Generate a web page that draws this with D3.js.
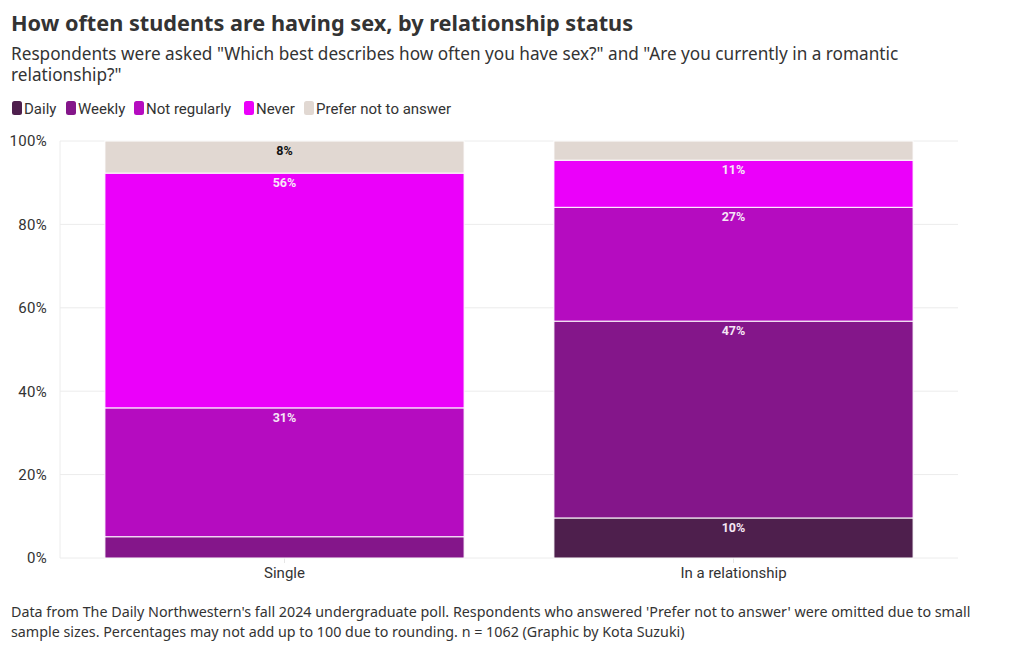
<!DOCTYPE html>
<html>
<head>
<meta charset="utf-8">
<script src="https://cdn.jsdelivr.net/npm/d3@7"></script>
<style>
  body { margin: 0; background: #fff; }
  svg { display: block; font-family: "Roboto", "Noto Sans", sans-serif; }
</style>
</head>
<body>
<svg id="chart" width="1020" height="650"></svg>
<script>
const categories = ["Single", "In a relationship"];
const seriesNames = ["Daily", "Weekly", "Not regularly", "Never", "Prefer not to answer"];
const daily = [0, 9.6];
const weekly = [5.1, 47.2];
const notRegularly = [30.9, 27.3];
const never = [56.3, 11.3];
const preferNot = [7.7, 4.6];
const colors = ["#4e1f4d", "#84168a", "#b50cc0", "#eb00fa", "#e1d8d2"];
const yTicks = [0, 20, 40, 60, 80, 100];

const svg = d3.select("#chart");
const margin = {left: 60, right: 62, top: 141, bottom: 92};
const W = 1020, H = 650;
const wideFont = "'Noto Sans', Roboto, sans-serif";

const x = d3.scaleBand().domain(categories).range([margin.left, W - margin.right]).paddingInner(0.2).paddingOuter(0.1);
const y = d3.scaleLinear().domain([0, 100]).range([H - margin.bottom, margin.top]);

const rows = categories.map((c, i) => ({
  cat: c,
  "Daily": daily[i], "Weekly": weekly[i], "Not regularly": notRegularly[i],
  "Never": never[i], "Prefer not to answer": preferNot[i]
}));
const stack = d3.stack().keys(seriesNames)(rows);

// Title etc.
svg.append("text").attr("x", 11).attr("y", 31).attr("font-size", 21.7).attr("font-weight", 700).attr("fill", "#333")
  .attr("font-family", wideFont)
  .text("How often students are having sex, by relationship status");
svg.append("text").attr("x", 11).attr("y", 60).attr("font-size", 17.2).attr("fill", "#333")
  .attr("font-family", wideFont)
  .text("Respondents were asked \"Which best describes how often you have sex?\" and \"Are you currently in a romantic");
svg.append("text").attr("x", 11).attr("y", 81).attr("font-size", 17.2).attr("fill", "#333")
  .attr("font-family", wideFont)
  .text("relationship?\"");

// Legend
const legendX = [12, 66, 134, 244, 304];
const lg = svg.append("g");
seriesNames.forEach((n, i) => {
  lg.append("rect").attr("x", legendX[i]).attr("y", 101).attr("width", 10).attr("height", 14).attr("rx", 2.5).attr("fill", colors[i]);
  lg.append("text").attr("x", legendX[i] + 12).attr("y", 113.5).attr("font-size", 15).attr("fill", "#333").text(n);
});

// Gridlines
const grid = svg.append("g");
grid.selectAll("line.h").data(yTicks).join("line")
  .attr("x1", margin.left).attr("x2", W - margin.right)
  .attr("y1", d => y(d)).attr("y2", d => y(d))
  .attr("stroke", "#ececec").attr("stroke-width", 1);
grid.append("line").attr("x1", margin.left).attr("x2", margin.left).attr("y1", margin.top).attr("y2", y(0))
  .attr("stroke", "#ececec");

// Y axis
const yAxis = svg.append("g").attr("transform", `translate(${margin.left - 10},0)`)
  .call(d3.axisLeft(y).tickValues(yTicks).tickFormat(d => d + "%").tickSize(0));
yAxis.select(".domain").remove();
yAxis.selectAll("text").attr("font-size", 15).attr("fill", "#333").attr("font-family", "Roboto, sans-serif").attr("dx", 0).attr("letter-spacing", 0.3);

// X axis
const xAxis = svg.append("g").attr("transform", `translate(0,${y(0)})`)
  .call(d3.axisBottom(x).tickSize(5).tickSizeOuter(0));
xAxis.select(".domain").remove();
xAxis.selectAll("line").attr("stroke", "#e6e6e6");
xAxis.selectAll("text").attr("font-size", 15).attr("fill", "#333").attr("font-family", "Roboto, sans-serif").attr("dy", "0.78em");

// Bars
const barG = svg.append("g");
stack.forEach((layer, li) => {
  barG.append("g").selectAll("rect").data(layer).join("rect")
    .attr("x", d => x(d.data.cat))
    .attr("width", x.bandwidth())
    .attr("y", d => y(d[1]))
    .attr("height", d => Math.max(0, y(d[0]) - y(d[1])))
    .attr("fill", colors[li])
    .attr("stroke", d => (d[1] - d[0]) > 0 ? "#fff" : "none")
    .attr("stroke-width", 1);
});
// Labels
stack.forEach((layer, li) => {
  barG.append("g").selectAll("text").data(layer.filter(d => d[1] - d[0] >= 6)).join("text")
    .attr("x", d => x(d.data.cat) + x.bandwidth() / 2)
    .attr("y", d => y(d[1]) + 14)
    .attr("text-anchor", "middle")
    .attr("font-size", 12.5).attr("font-weight", 700)
    .attr("fill", li === 4 ? "#111" : "#f6e6f6")
    .text(d => Math.round(d[1] - d[0]) + "%");
});

// Footer
svg.append("text").attr("x", 11).attr("y", 617).attr("font-size", 14.3).attr("fill", "#333")
  .attr("font-family", wideFont)
  .text("Data from The Daily Northwestern's fall 2024 undergraduate poll. Respondents who answered 'Prefer not to answer' were omitted due to small");
svg.append("text").attr("x", 11).attr("y", 637).attr("font-size", 14.3).attr("fill", "#333")
  .attr("font-family", wideFont)
  .text("sample sizes. Percentages may not add up to 100 due to rounding. n = 1062 (Graphic by Kota Suzuki)");
</script>
</body>
</html>
